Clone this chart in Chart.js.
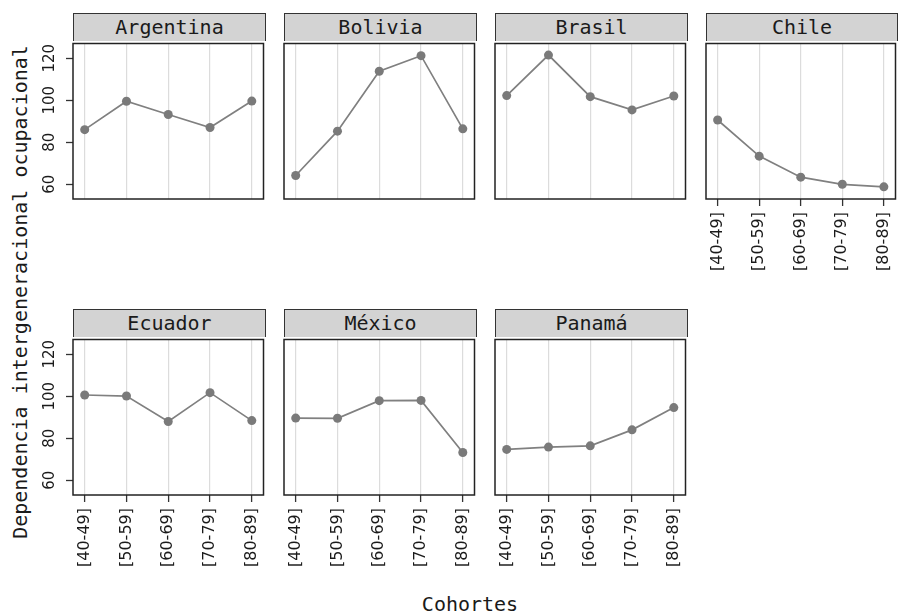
<!DOCTYPE html>
<html>
<head>
<meta charset="utf-8">
<script src="https://cdn.jsdelivr.net/npm/chart.js@4.4.1/dist/chart.umd.min.js"></script>
<style>
  body { margin: 0; background: #fff; }
  #wrap { position: relative; width: 898px; height: 614px; overflow: hidden; }
  .strip {
    position: absolute; box-sizing: border-box; background: #d3d3d3;
    border: 1.5px solid #333; border-bottom: none;
    font: 20px "DejaVu Sans Mono", monospace; color: #1a1a1a;
    text-align: center; line-height: 27px;
  }
  .panel { position: absolute; }
  .title { position: absolute; font: 20px "DejaVu Sans Mono", monospace; color: #1a1a1a; white-space: nowrap; }
</style>
</head>
<body>
<div id="wrap"></div>
<script>
const cohorts = ['[40-49]', '[50-59]', '[60-69]', '[70-79]', '[80-89]'];
const countries = ['Argentina', 'Bolivia', 'Brasil', 'Chile', 'Ecuador', 'México', 'Panamá'];
const argentina = [86, 99.5, 93.2, 87, 99.6];
const bolivia = [64.2, 85.3, 113.8, 121.2, 86.4];
const brasil = [102.2, 121.5, 101.7, 95.4, 102];
const chile = [90.6, 73.4, 63.4, 60, 58.8];
const ecuador = [100.6, 100.1, 88, 101.7, 88.4];
const mexico = [89.6, 89.5, 97.9, 98, 73.2];
const panama = [74.7, 75.8, 76.4, 84, 94.6];
const yTicks = [60, 80, 100, 120];

const series = [argentina, bolivia, brasil, chile, ecuador, mexico, panama];

const colLeft = [73, 284, 495, 706];
const rowTop = [41, 337];
const plotH = 158;
const axisW = 40;
const axisH = 80;
const pad = 2;

const wrap = document.getElementById('wrap');

// frame around plot area + rotated y tick labels
const panelPlugin = {
  id: 'panelFrame',
  afterDraw(chart, args, opts) {
    const { ctx, chartArea: a } = chart;
    ctx.save();
    if (opts.yLabels) {
      const ys = chart.scales.y;
      ctx.fillStyle = '#1a1a1a';
      ctx.font = '15px "DejaVu Sans"';
      ctx.textAlign = 'center';
      ctx.textBaseline = 'middle';
      yTicks.forEach(v => {
        ctx.save();
        ctx.translate(a.left - 23, ys.getPixelForValue(v));
        ctx.rotate(-Math.PI / 2);
        ctx.fillText(String(v), 0, 0);
        ctx.restore();
      });
    }
    ctx.strokeStyle = '#222';
    ctx.lineWidth = 1.5;
    ctx.strokeRect(a.left, a.top, a.right - a.left, a.bottom - a.top);
    ctx.restore();
  }
};

countries.forEach((name, i) => {
  const col = i % 4;
  const row = Math.floor(i / 4);
  const left = colLeft[col];
  const top = rowTop[row];
  const plotW = col === 3 ? 192 : 193;
  const showX = i >= 3;
  const showY = col === 0;

  const strip = document.createElement('div');
  strip.className = 'strip';
  strip.style.left = left + 'px';
  strip.style.top = (top - 28) + 'px';
  strip.style.width = plotW + 'px';
  strip.style.height = '28px';
  strip.textContent = name;
  wrap.appendChild(strip);

  const box = document.createElement('div');
  box.className = 'panel';
  box.style.left = (left - axisW) + 'px';
  box.style.top = (top - pad) + 'px';
  box.style.width = (plotW + axisW + pad) + 'px';
  box.style.height = (plotH + axisH + pad) + 'px';
  const cv = document.createElement('canvas');
  box.appendChild(cv);
  wrap.appendChild(box);

  new Chart(cv, {
    type: 'line',
    data: {
      datasets: [{
        data: series[i].map((v, k) => ({ x: k, y: v })),
        borderColor: '#808080',
        backgroundColor: '#7a7a7a',
        pointBackgroundColor: '#7a7a7a',
        pointBorderWidth: 0,
        pointRadius: 4.5,
        borderWidth: 1.7,
        tension: 0
      }]
    },
    options: {
      responsive: true,
      maintainAspectRatio: false,
      animation: false,
      layout: { padding: { top: pad, right: pad, left: 0, bottom: 0 } },
      plugins: {
        legend: { display: false },
        tooltip: { enabled: false },
        panelFrame: { yLabels: showY }
      },
      scales: {
        x: {
          type: 'linear',
          min: -0.28,
          max: 4.28,
          afterBuildTicks: s => { s.ticks = cohorts.map((c, k) => ({ value: k })); },
          afterFit: s => { s.height = axisH; s.paddingLeft = 0; s.paddingRight = 0; },
          border: { display: false },
          grid: {
            color: '#dcdcdc',
            lineWidth: 1.2,
            drawTicks: showX,
            tickLength: 7,
            tickColor: '#333',
            tickWidth: 1.3
          },
          ticks: {
            display: showX,
            autoSkip: false,
            minRotation: 90,
            maxRotation: 90,
            padding: 6,
            color: '#1a1a1a',
            font: { family: 'DejaVu Sans', size: 16 },
            callback: v => cohorts[v]
          }
        },
        y: {
          min: 53,
          max: 127,
          afterBuildTicks: s => { s.ticks = yTicks.map(v => ({ value: v })); },
          afterFit: s => { s.width = axisW; s.paddingTop = 0; s.paddingBottom = 0; },
          border: { display: false },
          grid: {
            drawOnChartArea: false,
            drawTicks: showY,
            tickLength: 7,
            tickColor: '#333',
            tickWidth: 1.3
          },
          ticks: { display: false }
        }
      }
    },
    plugins: [panelPlugin]
  });
});

const yt = document.createElement('div');
yt.className = 'title';
yt.textContent = 'Dependencia intergeneracional ocupacional';
yt.style.left = '20px';
yt.style.top = '292px';
yt.style.transform = 'translate(-50%, -50%) rotate(-90deg)';
wrap.appendChild(yt);

const xt = document.createElement('div');
xt.className = 'title';
xt.textContent = 'Cohortes';
xt.style.left = '470px';
xt.style.top = '604px';
xt.style.transform = 'translate(-50%, -50%)';
wrap.appendChild(xt);
</script>
</body>
</html>
